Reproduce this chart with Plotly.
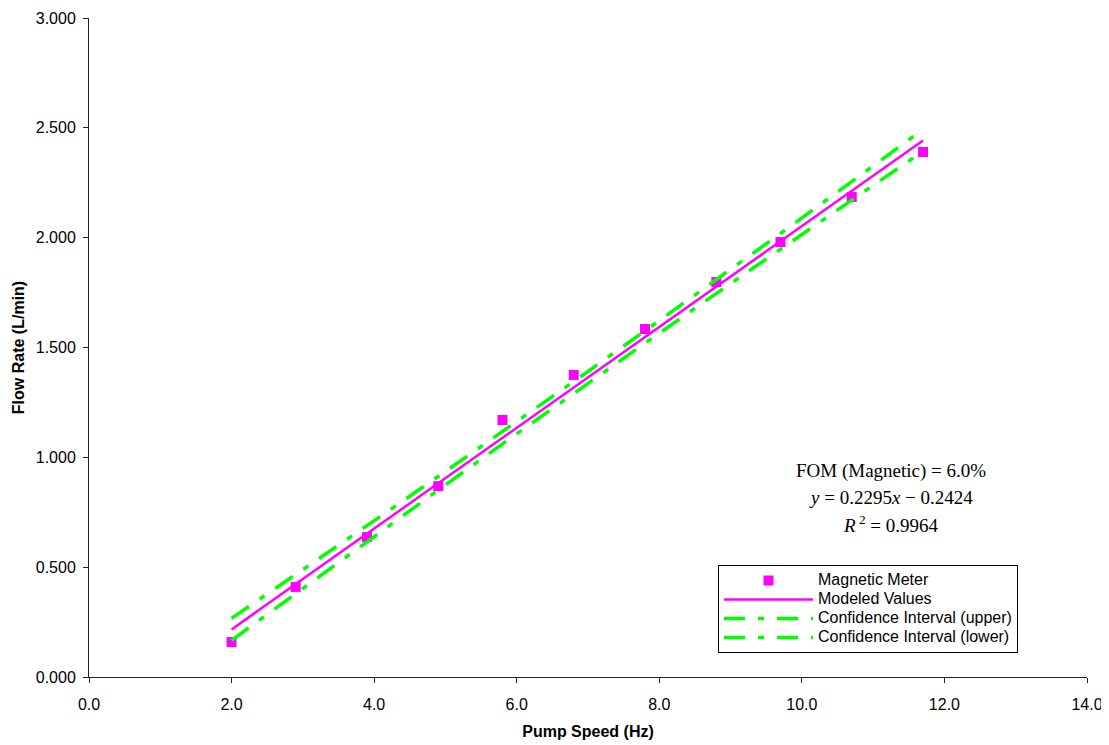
import plotly.graph_objects as go

# Data
pump_speed = [2.0, 2.9, 3.9, 4.9, 5.8, 6.8, 7.8, 8.8, 9.7, 10.7, 11.7]
magnetic_flow = [0.159, 0.410, 0.637, 0.869, 1.170, 1.375, 1.584, 1.798, 1.980, 2.185, 2.390]
modeled_flow = [0.2166, 0.4232, 0.6527, 0.8822, 1.0887, 1.3182, 1.5477, 1.7772, 1.9838, 2.2133, 2.4428]
ci_upper = [0.267, 0.466, 0.689, 0.913, 1.117, 1.345, 1.576, 1.808, 2.019, 2.255, 2.493]
ci_lower = [0.167, 0.380, 0.617, 0.851, 1.061, 1.291, 1.520, 1.746, 1.949, 2.171, 2.393]

x_ticks = [0, 2, 4, 6, 8, 10, 12, 14]
y_ticks = [0, 0.5, 1.0, 1.5, 2.0, 2.5, 3.0]

series_names = ["Magnetic Meter", "Modeled Values",
                "Confidence Interval (upper)", "Confidence Interval (lower)"]

annotation_lines = [
    "FOM (Magnetic) = 6.0%",
    "<i>y</i> = 0.2295<i>x</i> − 0.2424",
    "<i>R</i><sup> 2</sup> = 0.9964",
]

MAGENTA = "#FF00FF"
GREEN = "#00FF00"
SANS = "Liberation Sans, Arial, sans-serif"
SERIF = "Liberation Serif, Times New Roman, serif"
DASH = "21px,13px,6px,13px"

# page body has an 8px margin, so the figure is sized to fit the window
W, H = 1101, 737
ML, MR, MT, MB = 81, 22, 10, 68
PW, PH = W - ML - MR, H - MT - MB


def px_to_paper_y(fy):
    return (H - MB - fy) / PH


def legend_name(s):
    return '<span style="font-size:16px">' + s + '</span>'


fig = go.Figure()
fig.add_trace(go.Scatter(x=pump_speed, y=magnetic_flow, mode="markers", name=legend_name(series_names[0]),
                         marker=dict(symbol="square", size=10, color=MAGENTA)))
fig.add_trace(go.Scatter(x=pump_speed, y=modeled_flow, mode="lines", name=legend_name(series_names[1]),
                         line=dict(color=MAGENTA, width=2.5)))
fig.add_trace(go.Scatter(x=pump_speed, y=ci_upper, mode="lines", name=legend_name(series_names[2]),
                         line=dict(color=GREEN, width=3.5, dash=DASH)))
fig.add_trace(go.Scatter(x=pump_speed, y=ci_lower, mode="lines", name=legend_name(series_names[3]),
                         line=dict(color=GREEN, width=3.5, dash=DASH)))

for i, txt in enumerate(annotation_lines):
    fy = 463 + 26.5 * i
    fig.add_annotation(
        xref="paper", yref="paper", x=(883 - ML) / PW, y=px_to_paper_y(fy),
        text=txt, showarrow=False, align="center",
        font=dict(family=SERIF, size=19, color="black"),
        xanchor="center", yanchor="middle")

fig.update_layout(
    width=W, height=H,
    margin=dict(l=ML, r=MR, t=MT, b=MB, autoexpand=False),
    paper_bgcolor="white", plot_bgcolor="white",
    font=dict(family=SANS, size=16, color="black"),
    showlegend=True,
    legend=dict(x=(710 - ML) / PW, y=px_to_paper_y(557), xanchor="left", yanchor="top",
                bordercolor="black", borderwidth=1, bgcolor="white",
                font=dict(family=SANS, size=12), itemwidth=89, tracegroupgap=0),
    xaxis=dict(range=[0, 14], tickvals=x_ticks, tickformat=".1f", showgrid=False, zeroline=False,
               showline=True, linecolor="#222222", linewidth=1, ticks="outside", ticklen=5,
               tickcolor="#222222", tickfont=dict(size=16), ticklabelstandoff=8, automargin=False,
               title=dict(text="<b>Pump Speed (Hz)</b>", font=dict(family=SANS, size=16), standoff=13)),
    yaxis=dict(range=[0, 3], tickvals=y_ticks, tickformat=".3f", showgrid=False, zeroline=False,
               showline=True, linecolor="#222222", linewidth=1, ticks="outside", ticklen=5,
               tickcolor="#222222", tickfont=dict(size=16), ticklabelstandoff=4, automargin=False,
               title=dict(text="<b>Flow Rate (L/min)</b>", font=dict(family=SANS, size=16), standoff=7)),
)

fig.write_html("out.html")
